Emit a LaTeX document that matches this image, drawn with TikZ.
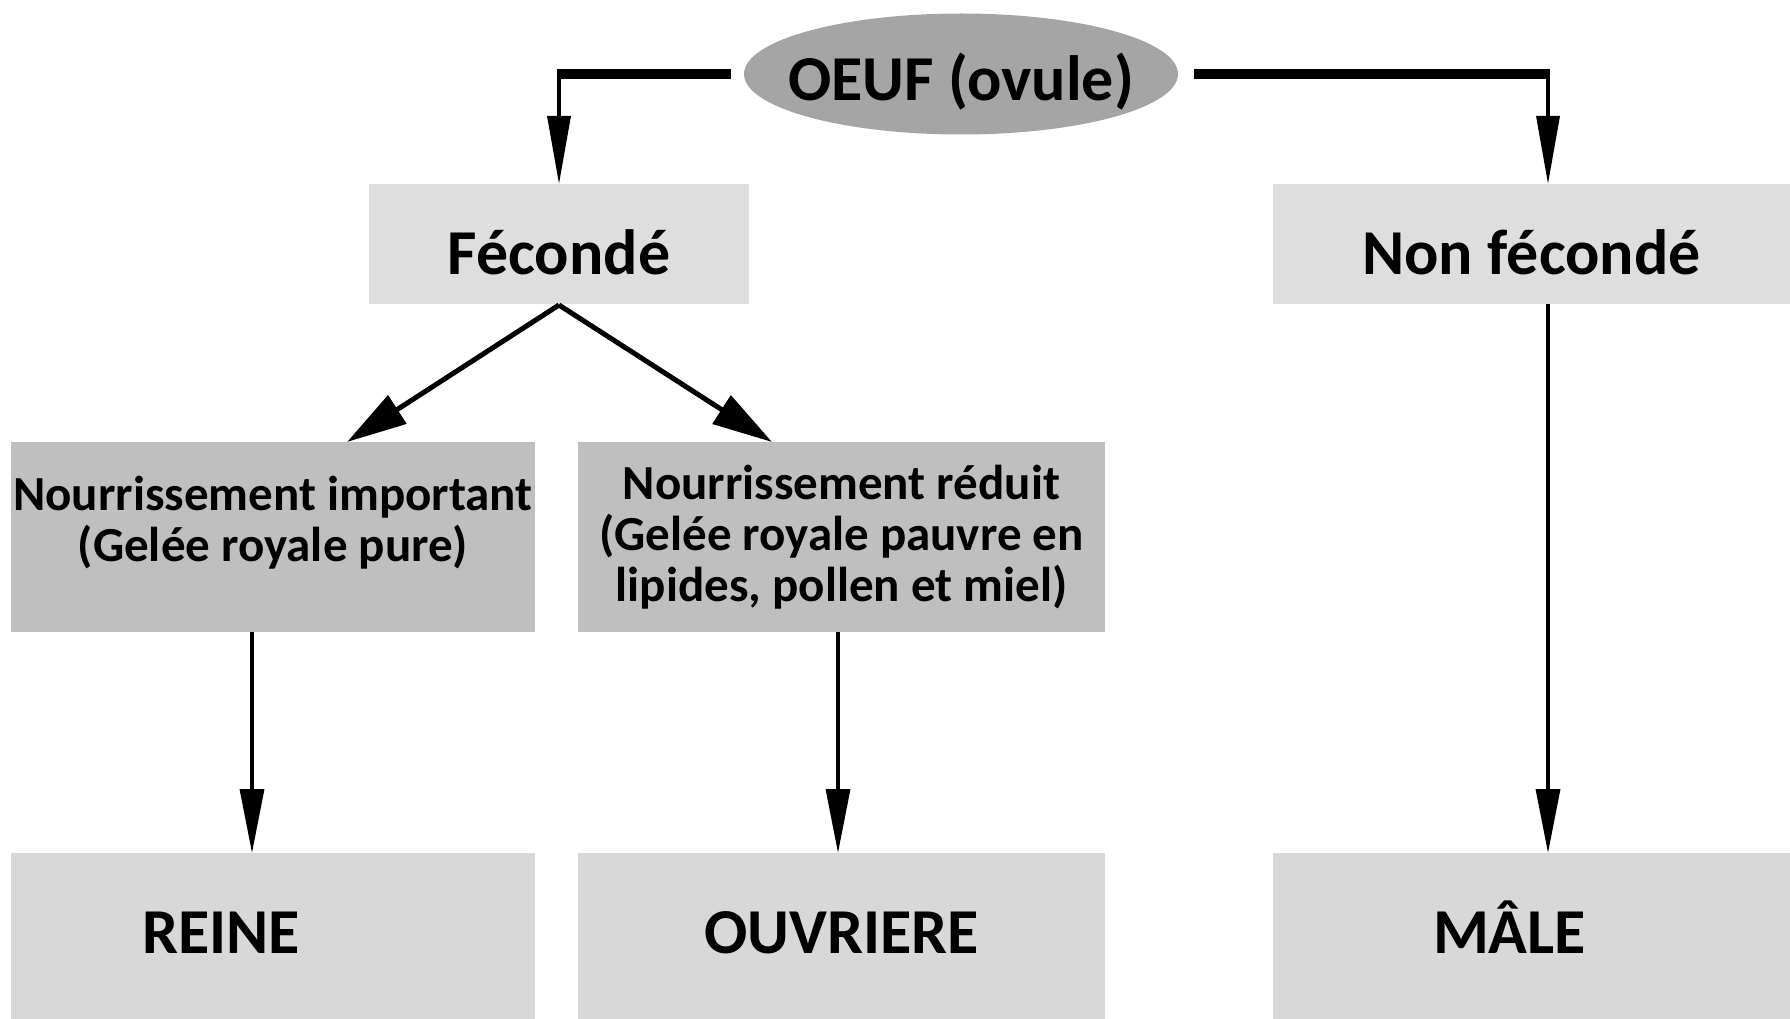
\documentclass[tikz,border=0pt]{standalone}
\usepackage{fontspec}
\setmainfont{Carlito}
\usetikzlibrary{arrows.meta,shapes.geometric}
\definecolor{ovalgray}{RGB}{165,165,165}
\definecolor{lightbox}{RGB}{222,222,222}
\definecolor{midbox}{RGB}{191,191,191}
\definecolor{endbox}{RGB}{216,216,216}
\begin{document}
\begin{tikzpicture}[x=1pt,y=-1pt,
  box/.style={rectangle, inner sep=0pt, outer sep=0pt, align=center},
  bigtext/.style={font=\fontsize{64}{70}\selectfont\bfseries},
  midtext/.style={font=\fontsize{49}{51}\selectfont\bfseries},
  toplab/.style={bigtext, text height=60pt, text depth=0pt},
  endlab/.style={bigtext, text height=50pt, text depth=16pt},
  vtip/.style={-{Triangle[length=64pt,width=24pt]}, line width=3.4pt},
  ttip/.style={-{Triangle[length=68pt,width=23pt]}, line width=3.4pt},
  dtip/.style={-{Triangle[length=60pt,width=33pt]}, line width=5pt},
  thickbar/.style={line width=10pt}]
\useasboundingbox (0,0) rectangle (1790,1019);
\fill[white] (0,0) rectangle (1790,1019);
% nodes
\node[ellipse, fill=ovalgray, minimum width=434pt, minimum height=121pt, inner xsep=-30pt, inner ysep=0pt, bigtext, text height=54pt, text depth=0pt] (oeuf) at (961,74) {OEUF (ovule)};
\node[box, fill=lightbox, minimum width=380pt, minimum height=120pt, toplab] (fec) at (559,244) {Fécondé};
\node[box, fill=lightbox, minimum width=517pt, minimum height=120pt, toplab] (nonfec) at (1531.5,244) {Non fécondé};
\node[box, fill=midbox, minimum width=524pt, minimum height=190pt, midtext] (imp) at (273,537) {Nourrissement important\\(Gelée royale pure)\\[-30pt]\strut};
\node[box, fill=midbox, minimum width=527pt, minimum height=190pt, midtext] (red) at (841.5,537) {Nourrissement réduit\\(Gelée royale pauvre en\\lipides, pollen et miel)};
\node[box, fill=endbox, minimum width=524pt, minimum height=166pt, endlab] (reine) at (273,936) {\hspace*{-104pt}REINE};
\node[box, fill=endbox, minimum width=527pt, minimum height=166pt, endlab] (ouv) at (841.5,936) {OUVRIERE};
\node[box, fill=endbox, minimum width=517pt, minimum height=166pt, endlab] (male) at (1531.5,936) {\hspace*{-44pt}MÂLE};
% corners
\coordinate (cl) at (fec.north |- oeuf.west);
\coordinate (cr) at ([xshift=16.5pt]nonfec.north |- oeuf.east);
% connectors
\draw[thickbar] ([xshift=-13pt]oeuf.west) -- ([xshift=-1.7pt]cl);
\draw[ttip] (cl) -- (fec.north);
\draw[thickbar] ([xshift=16pt]oeuf.east) -- ([xshift=1.7pt]cr);
\draw[ttip] (cr) -- ([xshift=16.5pt]nonfec.north);
\draw[dtip] ([yshift=-1pt]fec.south) -- ([xshift=74pt]imp.north);
\draw[dtip] ([yshift=-1pt]fec.south) -- ([xshift=-69.5pt]red.north);
\draw[vtip] ([xshift=-21pt]imp.south) -- ([xshift=-21pt]reine.north);
\draw[vtip] ([xshift=-3.5pt]red.south) -- ([xshift=-3.5pt]ouv.north);
\draw[vtip] ([xshift=16.5pt]nonfec.south) -- ([xshift=16.5pt]male.north);
\end{tikzpicture}
\end{document}
